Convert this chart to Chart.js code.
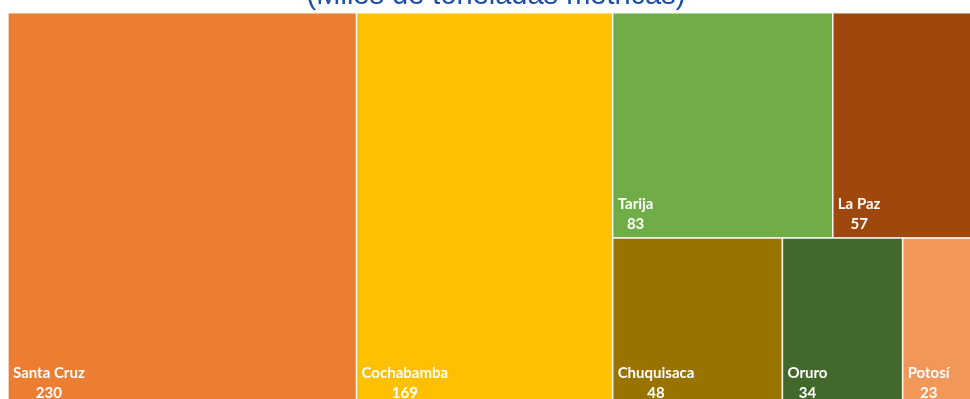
<!DOCTYPE html>
<html>
<head>
<meta charset="utf-8">
<script src="https://cdn.jsdelivr.net/npm/chart.js@4/dist/chart.umd.min.js"></script>
<style>
  html, body { margin: 0; padding: 0; background: #fff; overflow: hidden; width: 970px; height: 399px; }
  #wrap { position: absolute; left: 0; top: -22px; width: 990px; height: 429px; }
</style>
</head>
<body>
<div id="wrap"><canvas id="chart"></canvas></div>
<script>
// Producción por departamento (miles de toneladas métricas)
const departamentos = ['Santa Cruz', 'Cochabamba', 'Tarija', 'La Paz', 'Chuquisaca', 'Oruro', 'Potosí'];
const valores       = [230, 169, 83, 57, 48, 34, 23];
const colores       = ['#ED7D31', '#FFC000', '#70AD47', '#9E480E', '#997300', '#43682B', '#F1975A'];
const titulo        = '(Miles de toneladas métricas)';

// peor relación de aspecto de una fila (algoritmo squarified)
function worst(row, side) {
  const sum = row.reduce((a, b) => a + b, 0);
  const max = Math.max(...row), min = Math.min(...row);
  return Math.max(side * side * max / (sum * sum), (sum * sum) / (side * side * min));
}

// reparte las áreas en el rectángulo (x, y, w, h); devuelve rects en las mismas unidades
function squarify(areas, x, y, w, h) {
  const out = [];
  let i = 0;
  while (i < areas.length) {
    const side = Math.min(w, h);
    const row = [areas[i]];
    let j = i + 1;
    while (j < areas.length && worst([...row, areas[j]], side) <= worst(row, side)) {
      row.push(areas[j]); j++;
    }
    const sum = row.reduce((a, b) => a + b, 0);
    if (w >= h) {
      const cw = sum / h; let yy = y;
      row.forEach(a => { const rh = a / cw; out.push({ x, y: yy, w: cw, h: rh }); yy += rh; });
      x += cw; w -= cw;
    } else {
      const rh = sum / w; let xx = x;
      row.forEach(a => { const rw = a / rh; out.push({ x: xx, y, w: rw, h: rh }); xx += rw; });
      y += rh; h -= rh;
    }
    i = j;
  }
  return out;
}

const treemapPlugin = {
  id: 'treemap',
  beforeDatasetsDraw(chart) {
    const { ctx, chartArea, scales } = chart;
    const W = chartArea.right - chartArea.left;
    const H = chartArea.bottom - chartArea.top;
    const total = valores.reduce((a, b) => a + b, 0);
    // trabajamos en unidades proporcionales al píxel y luego pasamos a 0..1 de cada escala
    const rects = squarify(valores.map(v => v / total * W * H), 0, 0, W, H);

    ctx.save();
    rects.forEach((r, k) => {
      const x0 = scales.x.getPixelForValue(r.x / W);
      const x1 = scales.x.getPixelForValue((r.x + r.w) / W);
      const y0 = scales.y.getPixelForValue(r.y / H);
      const y1 = scales.y.getPixelForValue((r.y + r.h) / H);
      ctx.fillStyle = colores[k];
      ctx.fillRect(x0, y0, x1 - x0, y1 - y0);
      ctx.strokeStyle = 'rgba(255,255,255,0.85)';
      ctx.lineWidth = 1.5;
      ctx.strokeRect(x0, y0, x1 - x0, y1 - y0);

      // etiquetas: nombre y valor abajo a la izquierda
      ctx.fillStyle = '#fff';
      ctx.font = 'bold 15px Lato, "Open Sans", sans-serif';
      ctx.textBaseline = 'alphabetic';
      ctx.textAlign = 'left';
      const nx = x0 + 5;
      ctx.fillText(departamentos[k], nx, y1 - 29);
      const nw = ctx.measureText(departamentos[k]).width;
      ctx.textAlign = 'center';
      ctx.fillText(String(valores[k]), nx + nw / 2, y1 - 9);
    });
    ctx.restore();
  }
};

new Chart(document.getElementById('chart'), {
  type: 'scatter',
  data: { datasets: [{ data: [] }] },
  options: {
    responsive: true,
    maintainAspectRatio: false,
    animation: false,
    layout: { padding: { left: 8, right: 6, top: 0, bottom: 0 } },
    scales: {
      x: { display: false, min: 0, max: 1 },
      y: { display: false, min: 0, max: 1, reverse: true }
    },
    plugins: {
      legend: { display: false },
      tooltip: { enabled: false },
      title: {
        display: true,
        text: titulo,
        color: '#1C4FAB',
        font: { family: '"Liberation Sans", Arial, sans-serif', size: 29, weight: 'normal' },
        padding: { top: 1, bottom: -1 }
      }
    }
  },
  plugins: [treemapPlugin]
});
</script>
</body>
</html>
